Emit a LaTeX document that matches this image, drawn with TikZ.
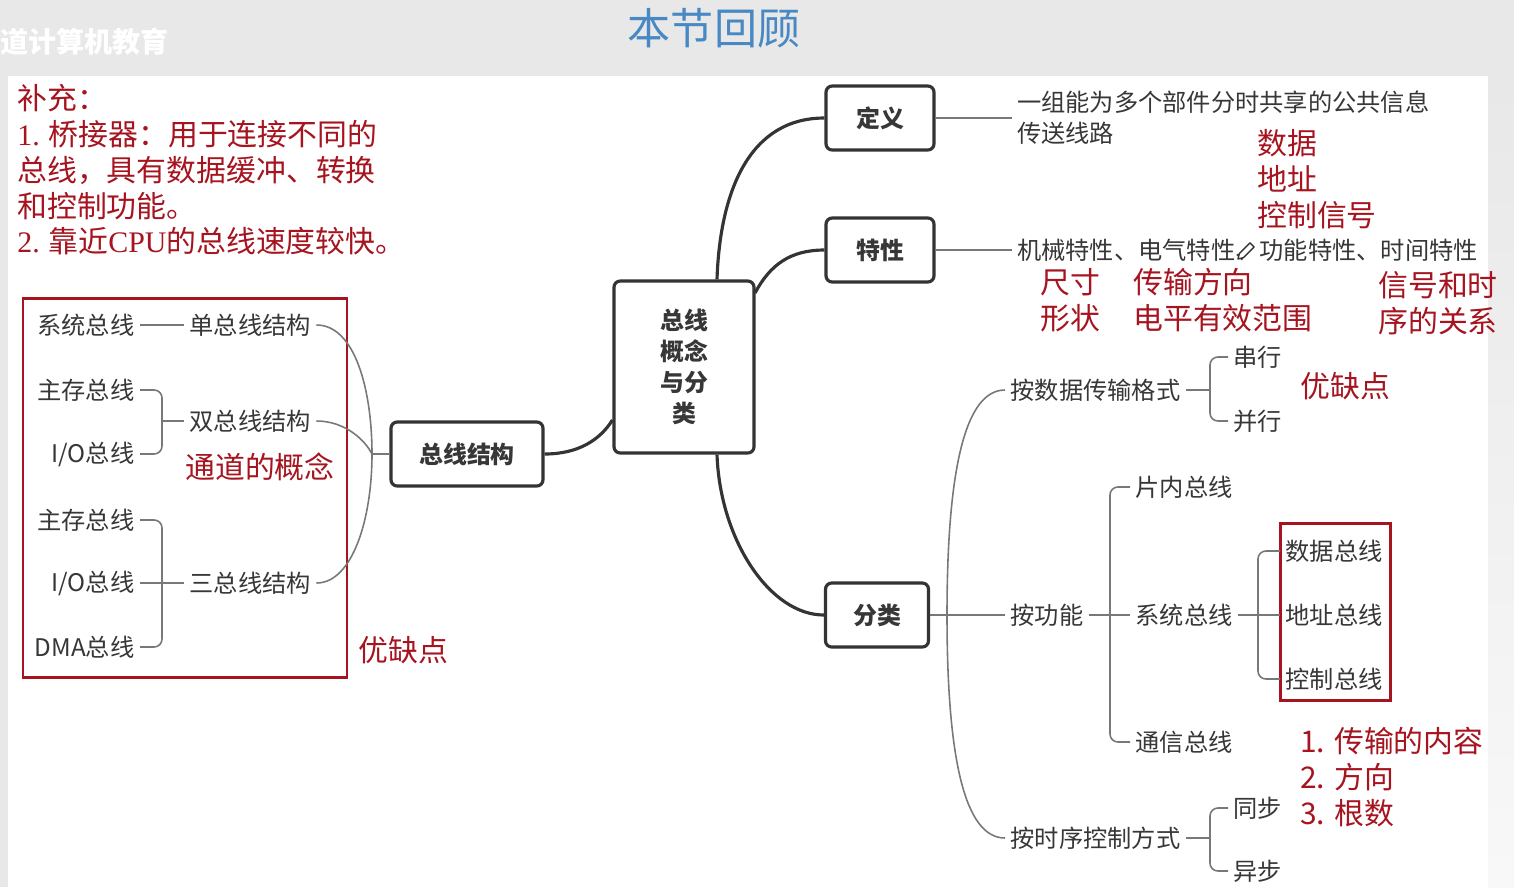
\documentclass[tikz,border=0pt]{standalone}
\usepackage{fontspec}
\setmainfont{Noto Sans CJK SC}
\newfontfamily\latinserif{Liberation Serif}
\usetikzlibrary{positioning}

\definecolor{bggrey}{RGB}{232,232,232}
\definecolor{textgrey}{RGB}{55,55,55}
\definecolor{linegrey}{RGB}{120,120,120}
\definecolor{boxdark}{RGB}{52,52,52}
\definecolor{notered}{RGB}{166,20,32}
\definecolor{titleblue}{RGB}{72,136,196}

\newcommand\leaffont{\fontsize{13.8pt}{17.6pt}\selectfont}
\newcommand\boxfont{\fontsize{13.6pt}{17.6pt}\selectfont\bfseries}
\newcommand\notefont{\fontsize{17pt}{20.4pt}\selectfont}
\newcommand\titlefont{\fontsize{24.5pt}{28pt}\selectfont}

\begin{document}
\begin{tikzpicture}[
        x=0.02cm, y=-0.02cm,
        box/.style = {rectangle, draw=boxdark, line width=1.8pt, fill=white, rounded corners=3.5pt, align=center, minimum height=1.28cm, text=textgrey, font=\boxfont},
        leaf/.style = {text=textgrey, inner sep=3pt, font=\leaffont},
        note/.style = {text=notered, inner sep=0pt, align=left, font=\notefont},
        branch/.style = {draw=linegrey, line width=0.9pt},
        trunk/.style = {draw=boxdark, line width=1.8pt},
        redbox/.style = {draw=notered, line width=1.7pt}
    ]

    % --- NEN ---
    \useasboundingbox (0,0) rectangle (1514,887);
    \fill[bggrey] (0,0) rectangle (1514,887);
    \fill[white] (8,76) rectangle (1488,887);
    \shade[top color=bggrey, bottom color=bggrey!30] (1488,76) rectangle (1514,887);
    \node[anchor=west, inner sep=0pt, text=white, font=\fontsize{16pt}{18pt}\selectfont\bfseries] (wm) at (0,42) {道计算机教育};
    \node[text=titleblue, font=\titlefont] (title) at (714,28) {本节回顾};

    % --- BU CHONG ---
    \node[note, anchor=north west] (supp) at (17,84) {补充：\\{\latinserif 1.} 桥接器：用于连接不同的\\总线，具有数据缓冲、转换\\和控制功能。\\{\latinserif 2.} 靠近{\latinserif CPU}的总线速度较快。};

    % --- KHOI CHINH ---
    \node[box, minimum width=2.8cm, minimum height=3.44cm] (bus) at (684,367) {总线\\概念\\与分\\类};
    \node[box, minimum width=3.04cm] (struct) at (467,454) {总线结构};
    \node[box, minimum width=2.16cm] (def) at (880,118) {定义};
    \node[box, minimum width=2.16cm] (prop) at (880,250) {特性};
    \node[box, minimum width=2.06cm] (cls) at (877,615) {分类};

    \draw[trunk] (struct.east) .. controls (578,454) and (600,440) .. (bus.west |- 0,420);
    \draw[trunk] (bus.north -| 717,0) .. controls (720,190) and (750,118) .. (def.west);
    \draw[trunk] (755,293) .. controls (770,265) and (790,250) .. (prop.west);
    \draw[trunk] (bus.south -| 717,0) .. controls (720,540) and (770,615) .. (cls.west);

    % --- DINH NGHIA / DAC TINH ---
    \node[leaf, align=left, right=1.52cm of def] (defn) {一组能为多个部件分时共享的公共信息\\传送线路};
    \node[leaf, right=1.52cm of prop] (propt) {机械特性、电气特性、功能特性、时间特性};
    \draw[branch] (def.east) -- (defn.west);
    \draw[branch] (prop.east) -- (propt.west);
    % but chi
    \draw[boxdark, line width=0.8pt, fill=white, line join=round]
        (1238,259) -- (1243.6,257.6) -- (1254.2,247.0) -- (1250.0,242.8) -- (1239.4,253.4) -- cycle;

    \node[note, anchor=north west] (sig) at (1257,129) {数据\\地址\\控制信号};
    \node[note, anchor=north west] (mech) at (1040,268) {尺寸\\形状};
    \node[note, anchor=north west] (elec) at (1133,268) {传输方向\\电平有效范围};
    \node[note, anchor=north west] (timing) at (1378,271) {信号和时\\序的关系};

    % --- CAU TRUC BUS ---
    \draw[redbox] (23,298) rectangle (347,677);
    \node[leaf, anchor=east] (sysb) at (140,325) {系统总线};
    \node[leaf, anchor=east] (mem1) at (140,390) {主存总线};
    \node[leaf, anchor=east] (io1) at (140,454) {I/O总线};
    \node[leaf, anchor=east] (mem2) at (140,520) {主存总线};
    \node[leaf, anchor=east] (io2) at (140,583) {I/O总线};
    \node[leaf, anchor=east] (dma) at (140,647) {DMA总线};

    \node[leaf, anchor=west] (single) at (184,325) {单总线结构};
    \node[leaf, anchor=west] (dual) at (184,421) {双总线结构};
    \node[leaf, anchor=west] (triple) at (184,583) {三总线结构};
    \node[note, anchor=west] (chan) at (185,467) {通道的概念};
    \node[note, anchor=west] (pros1) at (358,650) {优缺点};

    \coordinate (dualj) at (162,421);
    \coordinate (triplej) at (162,583);
    \coordinate (structj) at (372,454);

    \draw[branch] (sysb.east) -- (single.west);
    \draw[branch, rounded corners=4.5pt] (mem1.east) -| (dualj) |- (io1.east);
    \draw[branch] (dualj) -- (dual.west);
    \draw[branch, rounded corners=4.5pt] (mem2.east) -| (triplej) |- (dma.east);
    \draw[branch] (io2.east) -- (triple.west);

    \draw[branch] (single.east) .. controls (355,325) and (372,390) .. (structj);
    \draw[branch] (dual.east) .. controls (345,421) and (365,440) .. (structj);
    \draw[branch] (triple.east) .. controls (352,583) and (372,520) .. (structj);
    \draw[branch] (structj) -- (struct.west);

    % --- PHAN LOAI ---
    \node[leaf, anchor=west] (byfmt) at (1005,390) {按数据传输格式};
    \node[leaf, anchor=west] (byfunc) at (1005,615) {按功能};
    \node[leaf, anchor=west] (bytime) at (1005,838) {按时序控制方式};
    \node[leaf, anchor=west] (serial) at (1228,357) {串行};
    \node[leaf, anchor=west] (parallel) at (1228,421) {并行};
    \node[leaf, anchor=west] (chip) at (1130,487) {片内总线};
    \node[leaf, anchor=west] (sysbus) at (1130,615) {系统总线};
    \node[leaf, anchor=west] (comm) at (1130,742) {通信总线};
    \node[leaf, anchor=west] (dbus) at (1280,551) {数据总线};
    \node[leaf, anchor=west] (abus) at (1280,615) {地址总线};
    \node[leaf, anchor=west] (cbus) at (1280,679) {控制总线};
    \node[leaf, anchor=west] (sync) at (1228,808) {同步};
    \node[leaf, anchor=west] (async) at (1228,871) {异步};

    \node[note, anchor=west] (pros2) at (1300,386) {优缺点};
    \node[note, anchor=north west] (sysnote) at (1300,727) {1. 传输的内容\\2. 方向\\3. 根数};
    \draw[redbox] (1280,523) rectangle (1390,700);

    \coordinate (clsj) at (947,615);
    \coordinate (fmtj) at (1210,390);
    \coordinate (funcj) at (1110,615);
    \coordinate (busj) at (1258,615);
    \coordinate (timej) at (1210,838);

    \draw[branch] (cls.east) -- (byfunc.west);
    \draw[branch] (clsj) .. controls (947,470) and (965,390) .. (byfmt.west);
    \draw[branch] (clsj) .. controls (947,760) and (965,838) .. (bytime.west);

    \draw[branch] (byfmt.east) -- (fmtj);
    \draw[branch, rounded corners=4.5pt] (serial.west) -| (fmtj) |- (parallel.west);
    \draw[branch] (byfunc.east) -- (sysbus.west);
    \draw[branch, rounded corners=4.5pt] (chip.west) -| (funcj) |- (comm.west);
    \draw[branch] (sysbus.east) -- (abus.west);
    \draw[branch, rounded corners=4.5pt] (dbus.west) -| (busj) |- (cbus.west);
    \draw[branch] (bytime.east) -- (timej);
    \draw[branch, rounded corners=4.5pt] (sync.west) -| (timej) |- (async.west);

\end{tikzpicture}
\end{document}
